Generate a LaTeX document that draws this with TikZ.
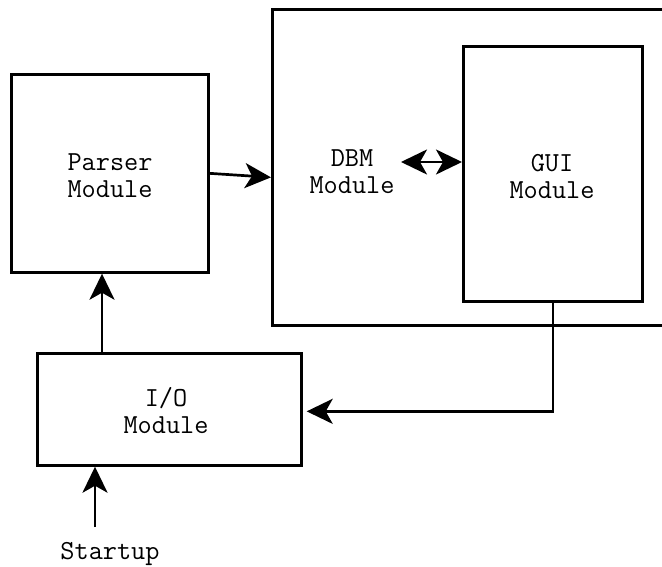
\documentclass[tikz,border=0pt]{standalone}
\usepackage{fontspec}
\usetikzlibrary{arrows.meta,calc}
\begin{document}
\begin{tikzpicture}[x=1pt,y=-1pt,
  box/.style={draw,line width=2.7pt,inner sep=0pt,anchor=north west},
  lbl/.style={align=center,font=\fontsize{27.5}{27}\ttfamily,inner sep=1pt},
  conn/.style={line width=2.7pt,-{Stealth[length=26pt,width=25pt,inset=7pt]}},
  conn2/.style={line width=2.7pt,{Stealth[length=26pt,width=25pt,inset=7pt]}-{Stealth[length=26pt,width=25pt,inset=7pt]}}]
\useasboundingbox (0,0) rectangle (662,567);
% boxes
\node[box,minimum width=197pt,minimum height=198pt] (parser) at (10,73) {};
\node[box,minimum width=420pt,minimum height=316pt] (big) at (271,8) {};
\node[box,minimum width=179pt,minimum height=255pt] (gui) at (462,45) {};
\node[box,minimum width=264pt,minimum height=112pt] (io) at (36,352) {};
% labels
\node[lbl] (parsertext) at (110,176) {Parser\\Module};
\node[lbl] (dbm) at (352,172) {DBM\\Module};
\node[lbl] (guitext) at (552,177) {GUI\\Module};
\node[lbl] (iotext) at (166,411) {I/O\\Module};
\node[lbl] (startup) at (110,554) {Startup};
% connectors
\draw[conn] (parser.east) -- ($(big.west|-parser.east)+(0,4)$);
\coordinate (dbmR) at (401,162);
\draw[conn2] (dbmR) -- (gui.west|-dbmR);
\draw[conn] (gui.south) |- ($(io.east)+(4,2)$);
\coordinate (ioUp) at ($(io.north west)+(66,0)$);
\draw[conn] (ioUp) -- (ioUp|-parser.south);
\coordinate (startIn) at (95,527);
\draw[conn] (startIn) -- (startIn|-io.south);
\end{tikzpicture}
\end{document}
